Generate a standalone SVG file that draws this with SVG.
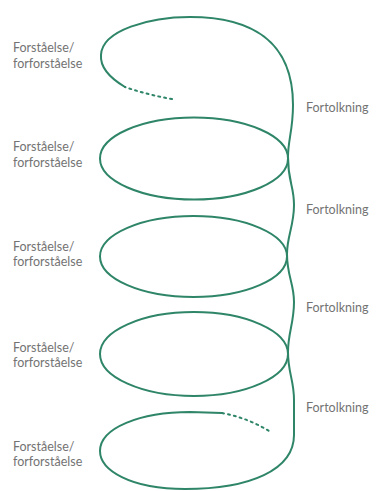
<svg xmlns="http://www.w3.org/2000/svg" width="382" height="491" viewBox="0 0 382 491">
<style>
.c{fill:none;stroke:#2e8568;stroke-width:2;stroke-linecap:round}
.d{fill:none;stroke:#2e8568;stroke-width:2;stroke-dasharray:2 4;stroke-linecap:round}
text{font-family:Lato,"Liberation Sans",sans-serif;font-size:12.5px;fill:#737373}
</style>
<rect width="382" height="491" fill="#fff"/>
<g id="connectors">
<path class="d" d="M172,99 Q148,95 125,87"/>
<path class="c" d="M125,87 C110,78 100,67 101,55 C102,30 150,17 190,17 C250,17 293,40 293,105 C293,130 288,140 288,157 C288,182 294,186 294,205 C294,226 287,236 287,254 C287,276 294,283 294,302 C294,323 288,333 288,352 C288,373 294,380 294,400 L294,435 C294,470 250,489 185,489 C130,489 100,470 100,451 C100,428 140,412 190,412 L222,413"/>
<path class="d" d="M222,413 Q248,418 269,431"/>
<ellipse class="c" cx="194" cy="158.5" rx="94" ry="41"/>
<ellipse class="c" cx="193.5" cy="256.5" rx="93.5" ry="40.5"/>
<ellipse class="c" cx="194" cy="354" rx="94" ry="42"/>
</g>
<g id="label-f1"><text x="13" y="52">Forståelse/</text><text x="13" y="68">forforståelse</text></g>
<g id="label-f2"><text x="13" y="151">Forståelse/</text><text x="13" y="167">forforståelse</text></g>
<g id="label-f3"><text x="13" y="251">Forståelse/</text><text x="13" y="266">forforståelse</text></g>
<g id="label-f4"><text x="13" y="352">Forståelse/</text><text x="13" y="367">forforståelse</text></g>
<g id="label-f5"><text x="13" y="451">Forståelse/</text><text x="13" y="466">forforståelse</text></g>
<g id="label-t1"><text x="306" y="112">Fortolkning</text></g>
<g id="label-t2"><text x="306" y="214">Fortolkning</text></g>
<g id="label-t3"><text x="306" y="312">Fortolkning</text></g>
<g id="label-t4"><text x="306" y="412">Fortolkning</text></g>
</svg>
